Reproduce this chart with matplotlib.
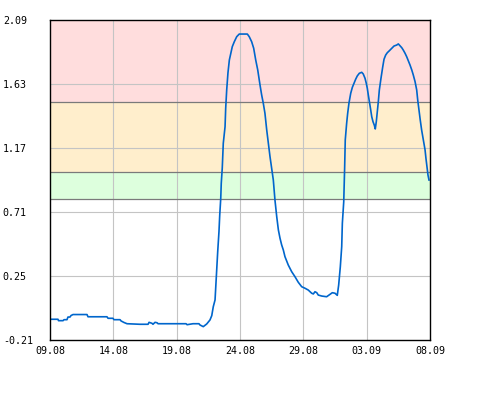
import matplotlib
matplotlib.use("Agg")
import matplotlib.pyplot as plt

# x: days since 09.08, y: measured value
days = [0.0, 0.63, 0.67, 1.03, 1.11, 1.34, 1.42, 1.58, 1.66, 1.82, 2.92, 3.0, 4.5, 4.58, 4.97,
        5.05, 5.53, 5.61, 5.84, 6.08, 7.1, 7.74, 7.82, 8.05, 8.13, 8.29, 8.45, 8.53, 10.74,
        10.82, 11.29, 11.76, 11.84, 12.10, 12.37, 12.63, 12.77, 12.89, 13.03, 13.08, 13.16,
        13.24, 13.34, 13.40, 13.48, 13.52, 13.60, 13.68, 13.82, 13.87, 13.95, 14.05, 14.16,
        14.29, 14.39, 14.55, 14.74, 14.94, 15.58, 15.73, 15.92, 16.08, 16.24, 16.40, 16.58,
        16.71, 16.84, 16.97, 17.11, 17.24, 17.37, 17.50, 17.63, 17.76, 17.90, 18.03, 18.16,
        18.29, 18.42, 18.55, 18.81, 19.08, 19.34, 19.60, 19.87, 20.13, 20.39, 20.66, 20.79,
        20.92, 21.06, 21.18, 21.45, 21.84, 22.10, 22.29, 22.50, 22.68, 22.79, 22.92, 23.03,
        23.08, 23.19, 23.23, 23.26, 23.31, 23.42, 23.50, 23.60, 23.74, 23.87, 24.00, 24.13,
        24.26, 24.42, 24.61, 24.73, 24.87, 24.97, 25.05, 25.13, 25.24, 25.32, 25.40, 25.50,
        25.60, 25.68, 25.76, 25.84, 25.92, 26.00, 26.13, 26.27, 26.37, 26.50, 26.63, 26.79,
        26.98, 27.16, 27.37, 27.50, 27.63, 27.77, 27.89, 28.03, 28.16, 28.29, 28.42, 28.56,
        28.68, 28.82, 28.95, 29.03, 29.13, 29.23, 29.34, 29.47, 29.61, 29.68, 29.76, 29.84,
        29.92]
values = [-0.061, -0.061, -0.071, -0.071, -0.064, -0.064, -0.045, -0.045, -0.034, -0.027,
          -0.027, -0.043, -0.043, -0.054, -0.054, -0.064, -0.064, -0.073, -0.084, -0.093,
          -0.097, -0.097, -0.083, -0.090, -0.097, -0.083, -0.086, -0.093, -0.093, -0.100,
          -0.093, -0.093, -0.102, -0.114, -0.095, -0.066, -0.035, 0.029, 0.078, 0.162, 0.293,
          0.425, 0.569, 0.688, 0.808, 0.916, 1.026, 1.204, 1.323, 1.455, 1.587, 1.711, 1.803,
          1.855, 1.898, 1.934, 1.970, 1.989, 1.989, 1.970, 1.934, 1.887, 1.803, 1.731, 1.623,
          1.551, 1.491, 1.419, 1.299, 1.204, 1.107, 1.026, 0.940, 0.796, 0.676, 0.581, 0.521,
          0.473, 0.437, 0.389, 0.329, 0.281, 0.245, 0.205, 0.173, 0.162, 0.149, 0.126, 0.121,
          0.137, 0.130, 0.113, 0.106, 0.101, 0.118, 0.130, 0.126, 0.111, 0.185, 0.317, 0.461,
          0.629, 0.784, 0.916, 1.024, 1.228, 1.348, 1.419, 1.491, 1.563, 1.606, 1.635, 1.664,
          1.688, 1.707, 1.714, 1.702, 1.671, 1.635, 1.599, 1.551, 1.491, 1.443, 1.395, 1.359,
          1.335, 1.307, 1.359, 1.431, 1.503, 1.587, 1.671, 1.754, 1.808, 1.838, 1.855, 1.869,
          1.887, 1.903, 1.910, 1.918, 1.905, 1.891, 1.874, 1.851, 1.826, 1.797, 1.767, 1.731,
          1.695, 1.647, 1.587, 1.515, 1.443, 1.371, 1.299, 1.228, 1.156, 1.096, 1.036, 0.976,
          0.940]

x_ticks = [0, 5, 10, 15, 20, 25, 30]
x_labels = ["09.08", "14.08", "19.08", "24.08", "29.08", "03.09", "08.09"]
y_ticks = [-0.21, 0.25, 0.71, 1.17, 1.63, 2.09]
y_labels = ["-0.21", "0.25", "0.71", "1.17", "1.63", "2.09"]

# threshold bands (low, high, colour)
band_low = [0.8, 1.0, 1.5]
band_high = [1.0, 1.5, 2.09]
band_colors = ["#ddffdd", "#ffeecc", "#ffdddd"]

fig = plt.figure(figsize=(4.9, 4.0), dpi=100)
ax = fig.add_axes([50/490, 60/400, 380/490, 320/400])
ax.set_xlim(0, 30)
ax.set_ylim(-0.21, 2.09)

for lo, hi, c in zip(band_low, band_high, band_colors):
    ax.axhspan(lo, hi, color=c, lw=0, zorder=0.5)

for xt in x_ticks[1:-1]:
    ax.axvline(xt, color="#c4c4c4", lw=0.8, zorder=1)
for yt in y_ticks[1:-1]:
    ax.axhline(yt, color="#c4c4c4", lw=0.8, zorder=1)
for b in band_low:
    ax.axhline(b, color="#7a7a7a", lw=0.9, zorder=1.5)

ax.plot(days, values, color="#0066cc", lw=1.2, zorder=3)

ax.set_xticks(x_ticks)
ax.set_xticklabels(x_labels)
ax.set_yticks(y_ticks)
ax.set_yticklabels(y_labels, ha="left")
ax.tick_params(axis="both", length=0, labelsize=7.2, colors="black")
ax.tick_params(axis="y", pad=34)
ax.tick_params(axis="x", pad=4.5)
for lab in ax.get_xticklabels() + ax.get_yticklabels():
    lab.set_family("DejaVu Sans Mono")
for s in ax.spines.values():
    s.set_color("black")
    s.set_linewidth(1.0)
    s.set_zorder(4)

fig.savefig("out.png", dpi=100, facecolor="white")
